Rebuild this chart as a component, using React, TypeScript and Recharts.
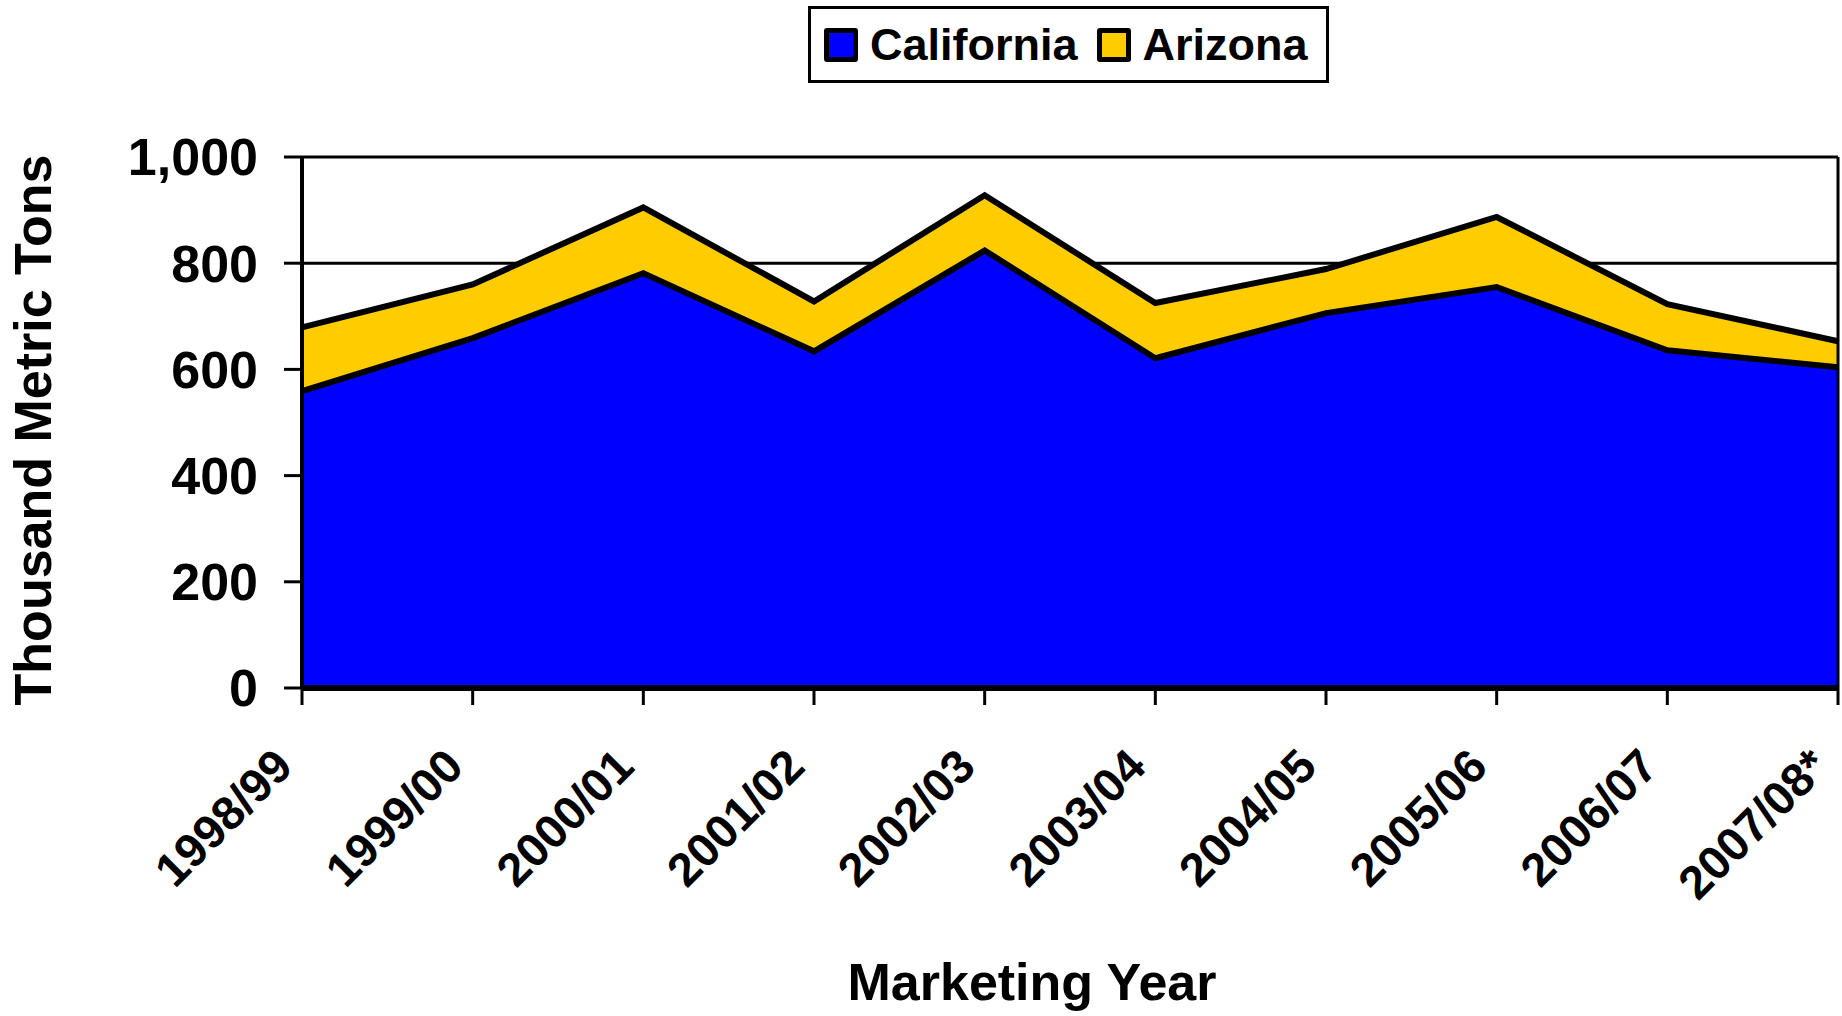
import { ComposedChart, Area, Line, XAxis, YAxis, CartesianGrid, ReferenceLine, Label } from 'recharts';

const years = ['1998/99', '1999/00', '2000/01', '2001/02', '2002/03', '2003/04', '2004/05', '2005/06', '2006/07', '2007/08*'];
const california = [559, 659, 781, 634, 824, 621, 706, 755, 636, 604];
const arizona = [120, 101, 124, 94, 104, 104, 83, 132, 87, 49];
const yTicks = [0, 200, 400, 600, 800, 1000];

const FONT = '"Liberation Sans", Arial, sans-serif';
const BLUE = '#0000FF';
const GOLD = '#FFCC00';

const data = years.map((year, i) => ({ year, California: california[i], Arizona: arizona[i] }));

const XTick = ({ x, y, payload }: any) => {
  const ax = x - 7;
  const ay = y + 64;
  return (
    <text
      x={ax}
      y={ay}
      transform={`rotate(-45 ${ax} ${ay})`}
      textAnchor="end"
      fontSize={47}
      fontWeight="bold"
      fontFamily={FONT}
      fill="#000"
    >
      {payload.value}
    </text>
  );
};

const legendItems = [
  { name: 'California', color: BLUE },
  { name: 'Arizona', color: GOLD },
];

export default function App() {
  return (
    <div style={{ position: 'absolute', left: 0, top: 0, width: 1842, height: 1016, background: '#fff' }}>
      <div
        style={{
          position: 'absolute', left: 808, top: 6, width: 521, height: 77,
          border: '3px solid #000', boxSizing: 'border-box',
          display: 'flex', alignItems: 'center', paddingLeft: 13,
          fontFamily: FONT, fontWeight: 'bold', fontSize: 45, color: '#000',
        }}
      >
        {legendItems.map((it) => (
          <div key={it.name} style={{ display: 'flex', alignItems: 'center', marginRight: 19 }}>
            <span
              style={{
                display: 'inline-block', width: 34, height: 34, boxSizing: 'border-box',
                border: '5px solid #000', borderRadius: 3, background: it.color, marginRight: 12,
              }}
            />
            <span style={{ lineHeight: 1 }}>{it.name}</span>
          </div>
        ))}
      </div>
      <ComposedChart width={1842} height={1016} data={data} margin={{ top: 157, right: 4, bottom: 0, left: 0 }}>
        <CartesianGrid stroke="#000" strokeWidth={3} vertical={false} />
        <Area
          type="linear"
          dataKey="California"
          stackId="1"
          fill={BLUE}
          fillOpacity={1}
          stroke="none"
          isAnimationActive={false}
        />
        <Area
          type="linear"
          dataKey="Arizona"
          stackId="1"
          fill={GOLD}
          fillOpacity={1}
          stroke="#000"
          strokeWidth={6}
          isAnimationActive={false}
        />
        <Line
          type="linear"
          dataKey="California"
          stroke="#000"
          strokeWidth={6}
          dot={false}
          activeDot={false}
          legendType="none"
          isAnimationActive={false}
        />
        <ReferenceLine x="2007/08*" stroke="#000" strokeWidth={3} />
        <XAxis
          dataKey="year"
          height={328}
          interval={0}
          tick={<XTick />}
          tickSize={17}
          tickMargin={0}
          axisLine={{ stroke: '#000', strokeWidth: 6 }}
          tickLine={{ stroke: '#000', strokeWidth: 3 }}
        >
          <Label
            content={() => (
              <text x={1032} y={1000} textAnchor="middle" fontSize={52} fontWeight="bold" fontFamily={FONT} fill="#000">
                Marketing Year
              </text>
            )}
          />
        </XAxis>
        <YAxis
          width={302}
          domain={[0, 1000]}
          ticks={yTicks}
          interval={0}
          tickFormatter={(v: number) => v.toLocaleString('en-US')}
          tick={{ fontSize: 52, fontWeight: 'bold', fontFamily: FONT, fill: '#000' }}
          tickSize={18}
          tickMargin={26}
          axisLine={{ stroke: '#000', strokeWidth: 4 }}
          tickLine={{ stroke: '#000', strokeWidth: 3 }}
        >
          <Label
            content={() => (
              <text
                x={51}
                y={430}
                transform="rotate(-90 51 430)"
                textAnchor="middle"
                fontSize={52}
                fontWeight="bold"
                fontFamily={FONT}
                fill="#000"
              >
                Thousand Metric Tons
              </text>
            )}
          />
        </YAxis>
      </ComposedChart>
    </div>
  );
}
